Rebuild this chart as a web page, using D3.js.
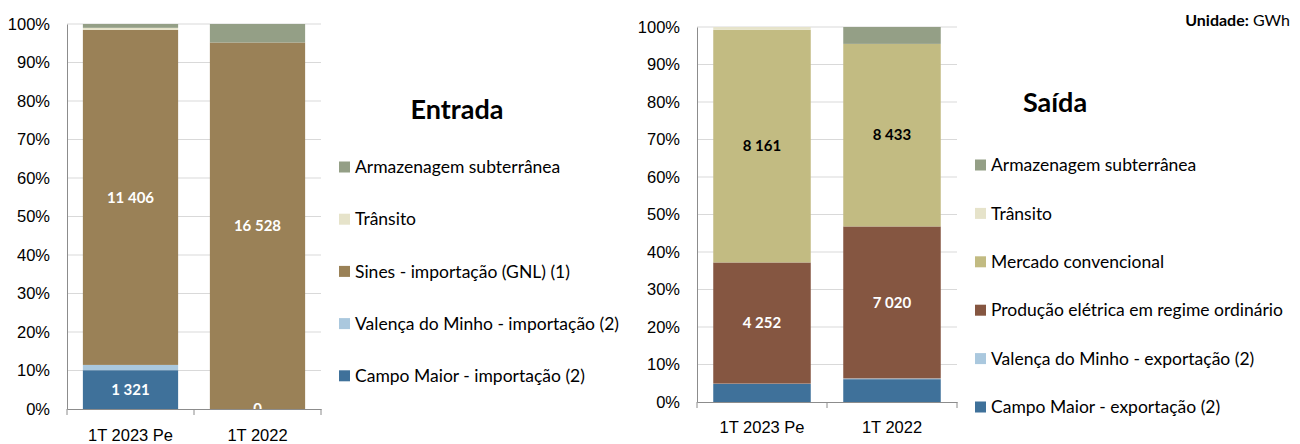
<!DOCTYPE html>
<html>
<head>
<meta charset="utf-8">
<script src="https://cdn.jsdelivr.net/npm/d3@7"></script>
<style>
  body { margin: 0; background: #fff; }
  svg { display: block; font-family: Lato, "Open Sans", sans-serif; }
  .tick text { font-size: 16.5px; fill: #000; }
</style>
</head>
<body>
<svg id="chart" width="1300" height="444"></svg>
<script>
// ---- data ---------------------------------------------------------------
const categories = ["1T 2023 Pe", "1T 2022"];

// Entrada (GWh), bottom to top of the stack
const entradaSeries = ["Campo Maior - importação (2)", "Valença do Minho - importação (2)",
                       "Sines - importação (GNL) (1)", "Trânsito", "Armazenagem subterrânea"];
const entradaValues = [
  [1321, 0],      // Campo Maior
  [180, 0],       // Valença do Minho
  [11406, 16528], // Sines
  [70, 0],        // Trânsito
  [130, 833]      // Armazenagem
];
const entradaLabelled = ["Campo Maior - importação (2)", "Sines - importação (GNL) (1)"];

// Saída (GWh), bottom to top of the stack
const saidaSeries = ["Campo Maior - exportação (2)", "Valença do Minho - exportação (2)",
                     "Produção elétrica em regime ordinário", "Mercado convencional",
                     "Trânsito", "Armazenagem subterrânea"];
const saidaValues = [
  [632, 1055],   // Campo Maior
  [12, 35],      // Valença do Minho
  [4252, 7020],  // Produção elétrica
  [8161, 8433],  // Mercado convencional
  [100, 0],      // Trânsito
  [0, 780]       // Armazenagem
];
const saidaLabelled = ["Produção elétrica em regime ordinário", "Mercado convencional"];

const colours = {
  "Campo Maior": "#3f719a",
  "Valença do Minho": "#aac8de",
  "Sines": "#9a8157",
  "Produção": "#855641",
  "Mercado": "#c2bb82",
  "Trânsito": "#e6e3ca",
  "Armazenagem": "#949f86"
};
function ColourOf(name) {
  const k = Object.keys(colours).find(k => name.startsWith(k));
  return colours[k];
}
function LabelColour(name) {
  return name.startsWith("Mercado") ? "#000" : "#fff";
}

const fmt = v => d3.format(",")(v).replace(/,/g, " ");

const svg = d3.select("#chart");

//-------------------------------------------------------------------------------
// one 100% stacked column chart with its legend and title

function DrawChart(cfg) {
  const { series, values, labelled } = cfg;

  const rows = categories.map((c, i) => {
    const r = { cat: c };
    series.forEach((s, j) => r[s] = values[j][i]);
    return r;
  });

  const stacked = d3.stack().keys(series).offset(d3.stackOffsetExpand)(rows);

  const x = d3.scaleBand().domain(categories).range([cfg.left, cfg.right]);
  const y = d3.scaleLinear().domain([0, 1]).range([cfg.bottom, cfg.top]);
  const barW = x.bandwidth() * 0.75;

  const g = svg.append("g");

  // gridlines
  g.append("g").selectAll("line")
    .data(y.ticks(10).filter(t => t > 0))
    .join("line")
      .attr("x1", cfg.left).attr("x2", cfg.right)
      .attr("y1", d => y(d)).attr("y2", d => y(d))
      .attr("stroke", "#d9d9d9").attr("stroke-width", 1);

  // y axis
  const yAxis = g.append("g")
    .attr("transform", `translate(${cfg.left},0)`)
    .call(d3.axisLeft(y).ticks(10, "%").tickSize(0).tickPadding(17));
  yAxis.select(".domain").attr("stroke", "#8c8c8c");

  // bars
  g.append("g").selectAll("g")
    .data(stacked)
    .join("g")
      .attr("fill", d => ColourOf(d.key))
    .selectAll("rect")
    .data(d => d)
    .join("rect")
      .attr("x", d => x(d.data.cat) + (x.bandwidth() - barW) / 2)
      .attr("width", barW)
      .attr("y", d => y(d[1]))
      .attr("height", d => y(d[0]) - y(d[1]));

  // value labels
  g.append("g").selectAll("g")
    .data(stacked.filter(s => labelled.includes(s.key)))
    .join("g")
      .attr("fill", d => LabelColour(d.key))
    .selectAll("text")
    .data(d => d.map(p => ({ p, key: d.key })))
    .join("text")
      .attr("x", d => x(d.p.data.cat) + x.bandwidth() / 2)
      .attr("y", d => y((d.p[0] + d.p[1]) / 2))
      .attr("dy", "0.35em")
      .attr("text-anchor", "middle")
      .attr("font-size", 15)
      .attr("font-weight", "bold")
      .text(d => fmt(d.p.data[d.key]));

  // x axis
  const xAxis = g.append("g")
    .attr("transform", `translate(0,${cfg.bottom})`)
    .call(d3.axisBottom(x).tickSize(0).tickPadding(cfg.xPad));
  xAxis.selectAll(".tick text").attr("font-size", 17);
  xAxis.select(".domain").attr("stroke", "#8c8c8c");
  xAxis.append("g").selectAll("line")
    .data([cfg.left, ...categories.map(c => x(c) + x.bandwidth())])
    .join("line")
      .attr("x1", d => d).attr("x2", d => d)
      .attr("y1", 0).attr("y2", 6)
      .attr("stroke", "#8c8c8c");

  // title
  g.append("text")
    .attr("x", cfg.titleX).attr("y", cfg.titleY)
    .attr("text-anchor", "middle")
    .attr("font-size", 27).attr("font-weight", "bold")
    .text(cfg.title);

  // legend, top item = top of stack
  const legend = g.append("g").selectAll("g")
    .data(series.slice().reverse())
    .join("g")
      .attr("transform", (d, i) => `translate(${cfg.legendX},${cfg.legendY + i * cfg.legendStep})`);
  legend.append("rect")
    .attr("x", 0).attr("y", -5.5).attr("width", 11).attr("height", 11)
    .attr("fill", ColourOf);
  legend.append("text")
    .attr("x", 16).attr("dy", "0.35em")
    .attr("font-size", 17.5)
    .text(d => d)
    .each(function() {
      // squeeze a label that would run off the page
      if (this.getComputedTextLength() > cfg.legendMaxW)
        d3.select(this).attr("textLength", cfg.legendMaxW).attr("lengthAdjust", "spacingAndGlyphs");
    });
}

DrawChart({
  series: entradaSeries, values: entradaValues, labelled: entradaLabelled,
  left: 67, right: 321, top: 24, bottom: 409, xPad: 20,
  title: "Entrada", titleX: 457, titleY: 119,
  legendX: 339, legendY: 167, legendStep: 52.2, legendMaxW: 280
});

DrawChart({
  series: saidaSeries, values: saidaValues, labelled: saidaLabelled,
  left: 697, right: 957, top: 27, bottom: 402, xPad: 19,
  title: "Saída", titleX: 1055, titleY: 112,
  legendX: 975, legendY: 165, legendStep: 48.4, legendMaxW: 298
});

// unit note
svg.append("text")
  .attr("x", 1290).attr("y", 26)
  .attr("text-anchor", "end")
  .attr("font-size", 16)
  .call(t => {
    t.append("tspan").attr("font-weight", "bold").text("Unidade:");
    t.append("tspan").text(" GWh");
  });
</script>
</body>
</html>
